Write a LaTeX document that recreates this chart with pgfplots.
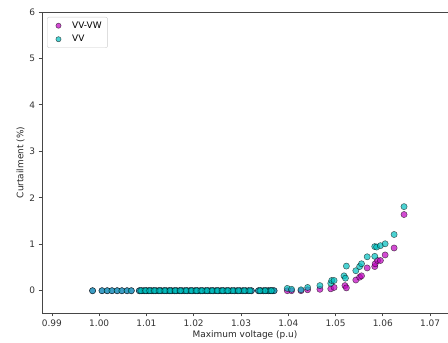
\documentclass[border=0pt]{standalone}
\usepackage{pgfplots}
\pgfplotsset{compat=1.18}
\usepackage{fontspec}
\setmainfont{DejaVu Sans}
\definecolor{mag}{RGB}{191,0,191}
\definecolor{cya}{RGB}{0,191,191}
\definecolor{spine}{RGB}{70,70,70}
\pgfplotstableread{
x y
0.9986 0
1.0006 0
1.0017 0
1.0027 0
1.0038 0
1.0048 0
1.0059 0
1.0068 0
1.0085 0
1.0090 0
1.0095 0
1.0100 0
1.0105 0
1.0110 0
1.0115 0
1.0120 0
1.0126 0
1.0131 0
1.0137 0
1.0142 0
1.0148 0
1.0153 0
1.0159 0
1.0164 0
1.0170 0
1.0175 0
1.0181 0
1.0186 0
1.0192 0
1.0197 0
1.0203 0
1.0208 0
1.0214 0
1.0219 0
1.0225 0
1.0230 0
1.0236 0
1.0241 0
1.0247 0
1.0252 0
1.0258 0
1.0263 0
1.0269 0
1.0274 0
1.0280 0
1.0286 0
1.0292 0
1.0298 0
1.0304 0
1.0310 0
1.0316 0
1.0322 0
1.0337 0
1.0342 0
1.0348 0
1.0353 0
1.0358 0
1.0362 0
1.0366 0
1.0370 0
1.0398 0.00
1.0407 0.00
1.0427 0.00
1.0441 0.02
1.0467 0.03
1.0490 0.04
1.0497 0.07
1.0520 0.11
1.0523 0.06
1.0543 0.23
1.0551 0.29
1.0555 0.32
1.0567 0.49
1.0583 0.52
1.0584 0.58
1.0589 0.65
1.0595 0.65
1.0605 0.77
1.0624 0.92
1.0645 1.64
}\vvvw
\pgfplotstableread{
x y
0.9986 0
1.0006 0
1.0017 0
1.0027 0
1.0038 0
1.0048 0
1.0059 0
1.0068 0
1.0085 0
1.0090 0
1.0095 0
1.0100 0
1.0105 0
1.0110 0
1.0115 0
1.0120 0
1.0126 0
1.0131 0
1.0137 0
1.0142 0
1.0148 0
1.0153 0
1.0159 0
1.0164 0
1.0170 0
1.0175 0
1.0181 0
1.0186 0
1.0192 0
1.0197 0
1.0203 0
1.0208 0
1.0214 0
1.0219 0
1.0225 0
1.0230 0
1.0236 0
1.0241 0
1.0247 0
1.0252 0
1.0258 0
1.0263 0
1.0269 0
1.0274 0
1.0280 0
1.0286 0
1.0292 0
1.0298 0
1.0304 0
1.0310 0
1.0316 0
1.0322 0
1.0337 0
1.0342 0
1.0348 0
1.0353 0
1.0358 0
1.0362 0
1.0366 0
1.0370 0
1.0398 0.05
1.0407 0.03
1.0427 0.02
1.0441 0.07
1.0467 0.11
1.0490 0.16
1.0492 0.22
1.0497 0.22
1.0518 0.32
1.0521 0.27
1.0523 0.53
1.0543 0.43
1.0551 0.52
1.0555 0.58
1.0567 0.73
1.0583 0.74
1.0583 0.95
1.0587 0.94
1.0595 0.97
1.0605 1.01
1.0624 1.21
1.0645 1.81
}\vv
\pgfplotstableread{
x y
1.0088 0
1.0098 0
1.0107 0
1.0117 0
1.0128 0
1.0139 0
1.0150 0
1.0161 0
1.0172 0
1.0184 0
1.0195 0
1.0206 0
1.0217 0
1.0228 0
1.0239 0
1.0250 0
1.0261 0
1.0272 0
1.0283 0
1.0295 0
1.0307 0
1.0319 0
1.0340 0
1.0351 0
1.0364 0
}\vvextra
\begin{document}
\begin{tikzpicture}
\begin{axis}[
  scale only axis,
  width=406bp, height=301bp,
  xmin=0.9879, xmax=1.0738,
  ymin=-0.48, ymax=6,
  axis lines*=left,
  axis line style={-, spine, line width=0.8bp},
  tick align=outside,
  major tick length=3.5bp,
  tick style={spine, line width=0.8bp},
  xtick={0.99,1.00,1.01,1.02,1.03,1.04,1.05,1.06,1.07},
  ytick={0,1,2,3,4,5,6},
  xticklabel style={/pgf/number format/fixed, /pgf/number format/precision=2, /pgf/number format/fixed zerofill},
  /pgf/number format/assume math mode=true,
  scaled x ticks=false,
  tick label style={font=\fontsize{9}{11}\selectfont, text=black!80},
  label style={font=\fontsize{9}{11}\selectfont, text=black!85},
  xlabel={Maximum voltage (p.u)},
  ylabel={Curtailment (\%)},
  xlabel style={yshift=3bp},
  ylabel style={yshift=-2bp},
  legend style={at={(0,1)}, anchor=north west, xshift=5bp, yshift=-5bp,
    draw=black!20, rounded corners=2bp, font=\fontsize{9}{11}\selectfont,
    fill=white, fill opacity=0.8, text opacity=1, inner xsep=4bp, inner ysep=2.5bp, row sep=1.5bp},
  legend cell align=left,
  /tikz/every odd column/.append style={column sep=3bp},
  legend image code/.code={%
    \path (0cm,0cm) (0.55cm,0cm);
    \draw[mark repeat=1,#1,mark size=2.6bp] plot coordinates {(0.25cm,0cm)};},
  clip=false,
]
\addplot[only marks, mark=*, mark size=3.1bp,
  mark options={fill=mag, fill opacity=0.7, draw=black, draw opacity=0.6, line width=0.5bp}]
  table[x=x, y=y] {\vvvw};
\addlegendentry{VV-VW}
\addplot[only marks, mark=*, mark size=3.1bp,
  mark options={fill=cya, fill opacity=0.7, draw=black, draw opacity=0.6, line width=0.5bp}]
  table[x=x, y=y] {\vv};
\addlegendentry{VV}
\addplot[only marks, mark=*, mark size=3.1bp, forget plot,
  mark options={fill=cya, fill opacity=0.7, draw=black, draw opacity=0.6, line width=0.5bp}]
  table[x=x, y=y] {\vvextra};
\draw[spine, line width=0.8bp] (rel axis cs:0,1) -- (rel axis cs:1,1);
\end{axis}
\pgfresetboundingbox
\path ([xshift=-42bp,yshift=-30bp]current axis.south west) rectangle ([yshift=12bp]current axis.north east);
\end{tikzpicture}
\end{document}
